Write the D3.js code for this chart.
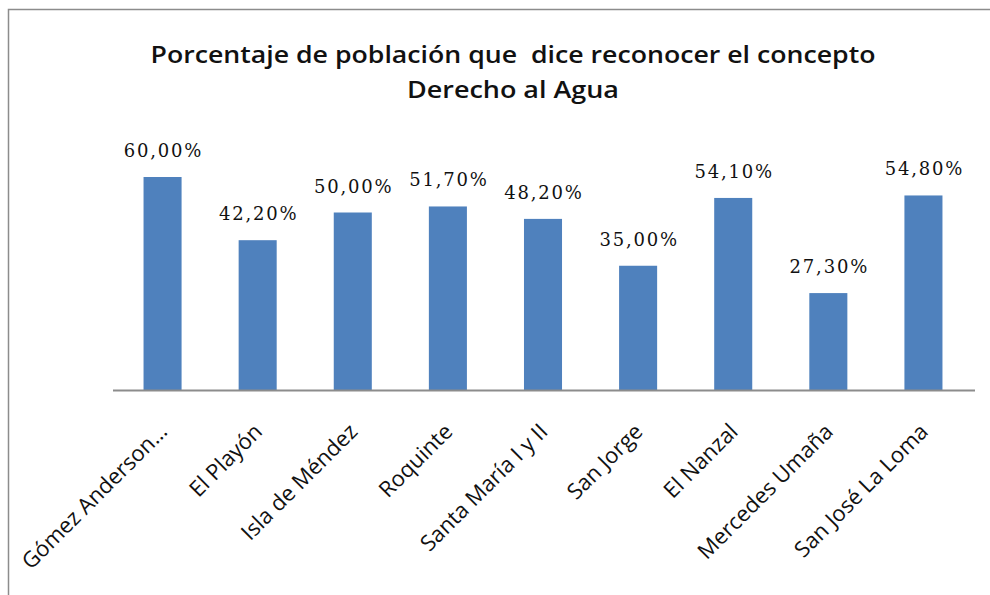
<!DOCTYPE html>
<html>
<head>
<meta charset="utf-8">
<script src="https://cdn.jsdelivr.net/npm/d3@7"></script>
<style>
  body { margin: 0; background: #fff; }
  svg { display: block; }
</style>
</head>
<body>
<div id="chart"></div>
<script>
const width = 990;
const height = 595;

// data
const categories = [
    "Gómez Anderson…", "El Playón", "Isla de Méndez", "Roquinte",
    "Santa María I y II", "San Jorge", "El Nanzal", "Mercedes Umaña", "San José La Loma"
];
const values = [60.0, 42.2, 50.0, 51.7, 48.2, 35.0, 54.1, 27.3, 54.8];
const titleLines = [
    "Porcentaje de población que  dice reconocer el concepto",
    "Derecho al Agua"
];

const barColor = "#4f81bd";
const baseY = 390;

const svg = d3.select("#chart").append("svg")
    .attr("width", width)
    .attr("height", height);

// chart frame (only top and left edges visible in the crop)
svg.append("path")
    .attr("d", `M8.5,${height} V9.5 H${width}`)
    .attr("fill", "none")
    .attr("stroke", "#8c8c8c")
    .attr("stroke-width", 1.5);

const x = d3.scaleBand()
    .domain(categories)
    .range([115, 971])
    .paddingInner(0.6)
    .paddingOuter(0.3);

const y = d3.scaleLinear()
    .domain([0, 60])
    .range([baseY, 177]);

// title
svg.append("g").selectAll("text")
    .data(titleLines)
    .enter().append("text")
    .attr("x", 513)
    .attr("y", (d, i) => 63 + i * 35)
    .attr("text-anchor", "middle")
    .style("white-space", "pre")
    .style("font-family", "'Open Sans', sans-serif")
    .style("font-weight", "600")
    .style("font-size", "24px")
    .style("fill", "#111")
    .attr("textLength", (d, i) => i === 0 ? 725 : 212)
    .attr("lengthAdjust", "spacingAndGlyphs")
    .text(d => d);

// bars
svg.append("g").selectAll("rect")
    .data(values)
    .enter().append("rect")
    .attr("x", (d, i) => x(categories[i]))
    .attr("y", d => y(d))
    .attr("width", x.bandwidth())
    .attr("height", d => baseY - y(d))
    .attr("fill", barColor);

// value labels
svg.append("g").selectAll("text")
    .data(values)
    .enter().append("text")
    .attr("x", (d, i) => x(categories[i]) + x.bandwidth() / 2 + 1)
    .attr("y", d => y(d) - 20)
    .attr("text-anchor", "middle")
    .style("font-family", "'DejaVu Serif', serif")
    .style("font-size", "18px")
    .style("letter-spacing", "1.8px")
    .style("fill", "#111")
    .text(d => d.toFixed(2).replace(".", ",") + "%");

// x axis line, no ticks
const xAxis = d3.axisBottom(x).tickSize(0).tickPadding(0);
const gx = svg.append("g")
    .attr("transform", `translate(0,${baseY})`)
    .call(xAxis);

gx.select(".domain")
    .attr("d", "M113,0.5H975")
    .attr("stroke", "#8c8c8c")
    .attr("stroke-width", 2);

gx.selectAll(".tick text")
    .attr("transform", "translate(6,43) rotate(-45)")
    .attr("text-anchor", "end")
    .attr("dy", 0)
    .attr("y", 0)
    .style("font-family", "'Open Sans', sans-serif")
    .style("font-size", "22px")
    .style("fill", "#111");
</script>
</body>
</html>
